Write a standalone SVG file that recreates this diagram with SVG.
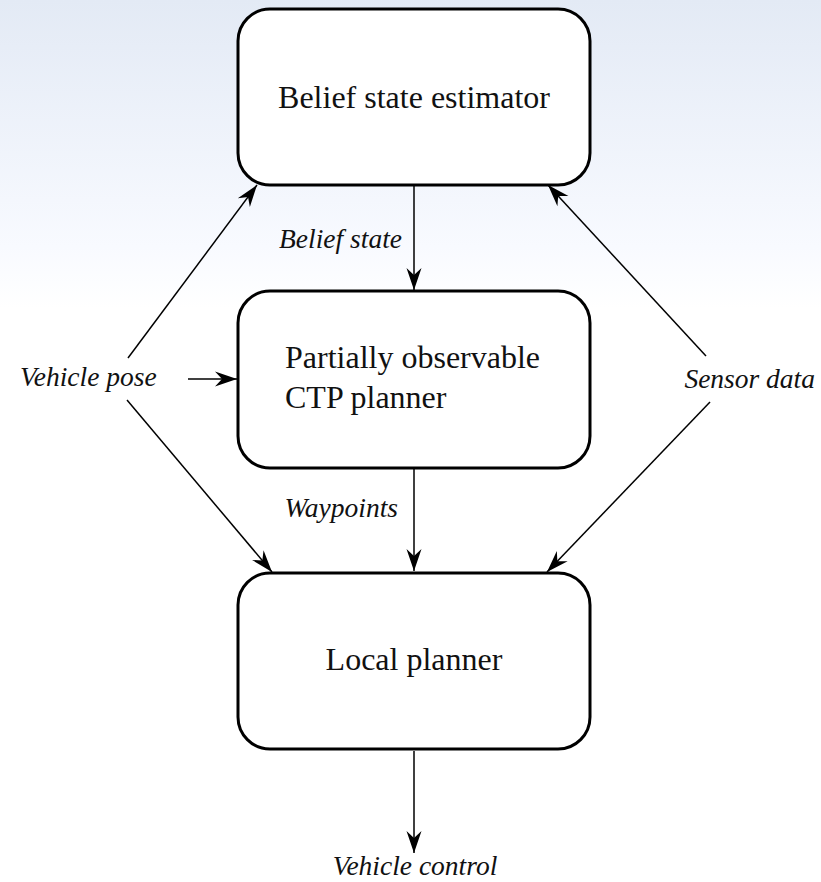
<svg xmlns="http://www.w3.org/2000/svg" width="821" height="882" viewBox="0 0 821 882">
<defs>
<linearGradient id="bg" x1="0" y1="0" x2="0" y2="1">
<stop offset="0" stop-color="#e3eaf5"/>
<stop offset="0.28" stop-color="#f8faff"/>
<stop offset="0.35" stop-color="#ffffff"/>
</linearGradient>
<marker id="ah" markerUnits="userSpaceOnUse" markerWidth="30" markerHeight="20" viewBox="-24 -10 26 20" refX="0" refY="0" orient="auto">
<path d="M0,0 L-22,-7.5 L-15,0 L-22,7.5 Z" fill="#000"/>
</marker>
<style>
.box{fill:#fff;stroke:#000;stroke-width:3}
.lbl{font-family:"Liberation Serif","Times New Roman",serif;font-size:32px;fill:#111}
.it{font-family:"Liberation Serif","Times New Roman",serif;font-size:27.5px;font-style:italic;fill:#111}
.con{stroke:#000;stroke-width:1.5;fill:none;marker-end:url(#ah)}
</style>
</defs>
<rect width="821" height="882" fill="url(#bg)"/>
<g id="connectors">
<line class="con" x1="414" y1="186" x2="414" y2="290"/>
<line class="con" x1="414" y1="469" x2="414" y2="571"/>
<line class="con" x1="414" y1="751" x2="414" y2="853"/>
<line class="con" x1="188" y1="379" x2="237" y2="379"/>
<line class="con" x1="128" y1="358" x2="257" y2="185"/>
<line class="con" x1="127" y1="400" x2="272" y2="572"/>
<line class="con" x1="706" y1="356" x2="548" y2="185"/>
<line class="con" x1="710" y1="402" x2="547" y2="572"/>
</g>
<g id="n1">
<rect class="box" x="238" y="9" width="352" height="176" rx="32"/>
<text class="lbl" x="414" y="108" text-anchor="middle">Belief state estimator</text>
</g>
<g id="n2">
<rect class="box" x="238" y="291" width="352" height="177" rx="32"/>
<text class="lbl" x="285" y="368">Partially observable</text>
<text class="lbl" x="285" y="408">CTP planner</text>
</g>
<g id="n3">
<rect class="box" x="238" y="573" width="352" height="176" rx="32"/>
<text class="lbl" x="414" y="670" text-anchor="middle">Local planner</text>
</g>
<g id="labels">
<text class="it" x="402" y="248" text-anchor="end">Belief state</text>
<text class="it" x="398" y="517" text-anchor="end">Waypoints</text>
<text class="it" x="20" y="386">Vehicle pose</text>
<text class="it" x="815" y="388" text-anchor="end">Sensor data</text>
<text class="it" x="415" y="875" text-anchor="middle">Vehicle control</text>
</g>
</svg>
